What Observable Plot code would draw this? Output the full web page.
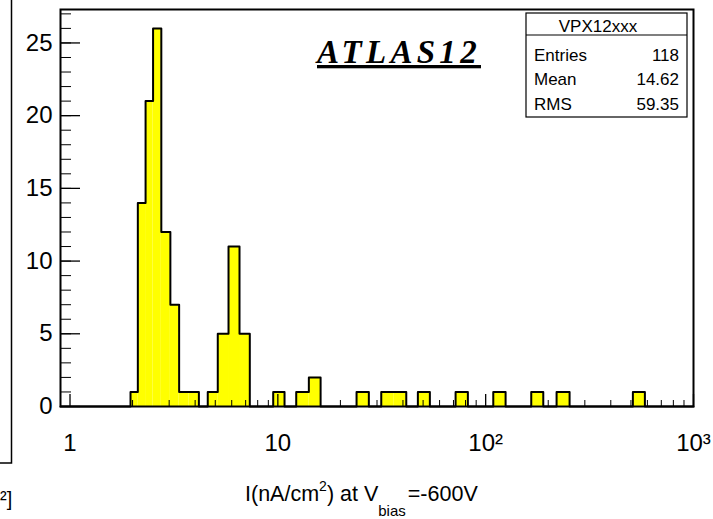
<!DOCTYPE html>
<html><head><meta charset="utf-8">
<script src="https://cdn.jsdelivr.net/npm/d3@7"></script>
<script src="https://cdn.jsdelivr.net/npm/@observablehq/plot@0.6"></script>
<style>
html,body{margin:0;padding:0;background:#fff;}
#chart{position:relative;width:713px;height:519px;overflow:hidden;}
</style></head><body><div id="chart"></div>
<script>
// Histogram bins (lower edge, upper edge, entries)
const binLo  = [1.955, 2.12, 2.31, 2.51, 2.75, 3.04, 3.35, 3.74, 4.60, 5.14, 5.79, 6.54, 9.50, 12.26, 14.10, 23.92, 31.45, 36.13, 47.18, 71.66, 108.8, 165.7, 219.4, 510.9];
const binHi  = [2.12, 2.31, 2.51, 2.75, 3.04, 3.35, 3.74, 4.17, 5.14, 5.79, 6.54, 7.33, 10.77, 14.10, 16.06, 27.41, 36.13, 41.49, 53.89, 82.10, 124.7, 189.3, 253.4, 583.6];
const counts = [1, 14, 21, 26, 12, 7, 1, 1, 1, 5, 11, 5, 1, 1, 2, 1, 1, 1, 1, 1, 1, 1, 1, 1];

const xDomain = [0.9, 1000];
const yDomain = [0, 27.3];
const majorX = [1, 10, 100, 1000];
const majorXLabels = ["1", "10", "10²", "10³"];
const minorX = [2, 3, 4, 5, 6, 7, 8, 9, 20, 30, 40, 50, 60, 70, 80, 90, 200, 300, 400, 500, 600, 700, 800, 900];
const majorY = [0, 5, 10, 15, 20, 25];
const minorY = [0, 1, 2, 3, 4, 5, 6, 7, 8, 9, 10, 11, 12, 13, 14, 15, 16, 17, 18, 19, 20, 21, 22, 23, 24, 25, 26, 27];

const statsTitle = "VPX12xxx";
const statsNames = ["Entries", "Mean", "RMS"];
const statsValues = ["118", "14.62", "59.35"];
const tag = "ATLAS12";

const bins = binLo.map((lo, i) => ({lo, hi: binHi[i], count: counts[i]}));
// outline of the histogram (ROOT style step line)
const outline = [{x: xDomain[0], y: 0}];
bins.forEach((b, i) => {
  outline.push({x: b.lo, y: b.count});
  const next = bins[i + 1];
  if (!next || next.lo !== b.hi) outline.push({x: b.hi, y: 0});
});
outline.push({x: xDomain[1], y: 0});

const fontFamily = '"Liberation Sans", Arial, Helvetica, sans-serif';

const svg = Plot.plot({
  width: 713, height: 519,
  marginLeft: 60, marginRight: 20, marginTop: 9, marginBottom: 113,
  style: {fontFamily, background: "white", color: "black"},
  x: {type: "log", domain: xDomain, label: null},
  y: {domain: yDomain, label: null},
  marks: [
    Plot.rectY(bins, {x1: "lo", x2: "hi", y: "count", fill: "#ffff00"}),
    Plot.line(outline, {x: "x", y: "y", curve: "step-after", stroke: "black", strokeWidth: 2}),
    Plot.axisX(minorX, {tickSize: -6, tickFormat: () => "", strokeWidth: 1, label: null}),
    Plot.axisX(majorX, {tickSize: -12, tickFormat: () => "", strokeWidth: 1.3, label: null}),
    Plot.axisX(majorX, {tickSize: 0, tickPadding: 27, fontSize: 24, label: null,
      tickFormat: d => majorXLabels[majorX.indexOf(d)]}),
    Plot.axisY(minorY, {tickSize: -11, tickFormat: () => "", strokeWidth: 1, label: null}),
    Plot.axisY(majorY, {tickSize: -20, tickFormat: () => "", strokeWidth: 1.3, label: null}),
    Plot.axisY(majorY, {tickSize: 0, tickPadding: 8, fontSize: 24, label: null}),
    Plot.frame({stroke: "black", strokeWidth: 2})
  ]
});
document.getElementById("chart").appendChild(svg);

const s = d3.select(svg);
// ATLAS12 tag
s.append("text")
  .attr("x", 317).attr("y", 63)
  .attr("text-anchor", "start")
  .attr("font-family", '"Liberation Serif", "Times New Roman", serif')
  .attr("font-style", "italic").attr("font-weight", "bold")
  .attr("font-size", 33).attr("letter-spacing", 4.3)
  .style("text-decoration", "underline")
  .attr("fill", "black")
  .text(tag);

// Stats box
const box = s.append("g").attr("font-family", fontFamily).attr("font-size", 17)
  .attr("fill", "black").attr("text-anchor", "start");
box.append("rect").attr("x", 526).attr("y", 13).attr("width", 161).attr("height", 104)
  .attr("fill", "white").attr("stroke", "black").attr("stroke-width", 1.2);
box.append("line").attr("x1", 526).attr("x2", 687).attr("y1", 35).attr("y2", 35)
  .attr("stroke", "black").attr("stroke-width", 1.2);
box.append("text").attr("x", 598).attr("y", 32).attr("text-anchor", "middle").text(statsTitle);
statsNames.forEach((n, i) => {
  const y = 61 + i * 24.3;
  box.append("text").attr("x", 534).attr("y", y).attr("text-anchor", "start").text(n);
  box.append("text").attr("x", 679).attr("y", y).attr("text-anchor", "end").text(statsValues[i]);
});

// X axis title
const t = s.append("text").attr("x", 245).attr("y", 501).attr("text-anchor", "start")
  .attr("font-family", fontFamily).attr("font-size", 21.5).attr("fill", "black");
t.append("tspan").text("I(nA/cm");
t.append("tspan").attr("font-size", 14).attr("dy", -10).text("2");
t.append("tspan").attr("dy", 10).text(") at V");
t.append("tspan").attr("font-size", 15).attr("dy", 15).text("bias");
t.append("tspan").attr("dy", -15).attr("dx", 2).text("=-600V");

// Edge of neighbouring pad (cropped)
s.append("path").attr("d", "M11.5,0 V463 H0").attr("fill", "none").attr("stroke", "black").attr("stroke-width", 1.5);
s.append("text").attr("x", 0).attr("y", 506).attr("text-anchor", "start").attr("font-family", fontFamily)
  .attr("font-size", 20).attr("fill", "black").text("²]");
</script></body></html>
